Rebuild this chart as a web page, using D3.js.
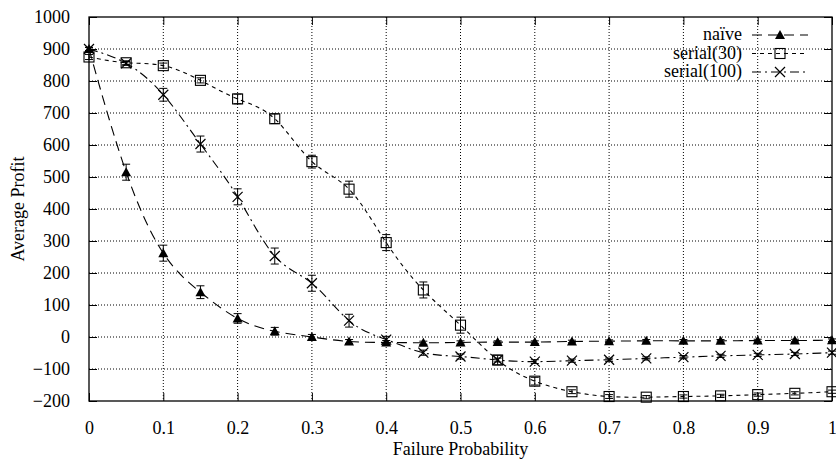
<!DOCTYPE html>
<html>
<head>
<meta charset="utf-8">
<script src="https://cdn.jsdelivr.net/npm/d3@7"></script>
<style>
  body { margin: 0; background: #fff; }
</style>
</head>
<body>
<div id="chart"></div>
<script>
// failure probabilities (x) shared by every series
var probs = [0, 0.05, 0.1, 0.15, 0.2, 0.25, 0.3, 0.35, 0.4, 0.45, 0.5,
             0.55, 0.6, 0.65, 0.7, 0.75, 0.8, 0.85, 0.9, 0.95, 1];

var naive     = [900, 515, 262, 140, 58, 18, 0, -14, -17, -18, -17,
                 -16, -16, -14, -13, -12, -12, -12, -11, -11, -10];
var naiveErr  = [5, 25, 25, 20, 15, 12, 8, 6, 6, 5, 5, 4, 4, 4, 4, 4, 4, 4, 4, 4, 4];

var serial30    = [875, 857, 848, 802, 744, 682, 548, 462, 295, 147, 37,
                   -72, -138, -171, -186, -188, -186, -184, -180, -176, -171];
var serial30Err = [8, 6, 8, 8, 15, 15, 20, 25, 25, 25, 25, 15, 12, 6, 6, 5, 5, 5, 5, 5, 5];

var serial100    = [900, 855, 757, 603, 438, 253, 168, 51, -8, -49, -61,
                    -72, -77, -74, -71, -67, -63, -59, -56, -53, -49];
var serial100Err = [5, 6, 20, 25, 25, 25, 25, 20, 10, 8, 8, 6, 6, 5, 5, 5, 5, 5, 5, 5, 5];

var xTicks = [0, 0.1, 0.2, 0.3, 0.4, 0.5, 0.6, 0.7, 0.8, 0.9, 1];
var yTicks = [-200, -100, 0, 100, 200, 300, 400, 500, 600, 700, 800, 900, 1000];

var svgWidth = 836;
var svgHeight = 464;
var margin = { top: 17, right: 4, bottom: 63, left: 89 };
var width = svgWidth - margin.left - margin.right;
var height = svgHeight - margin.top - margin.bottom;
var serif = "'Liberation Serif', 'Times New Roman', Times, 'DejaVu Serif', serif";

var svg = d3.select("#chart")
  .append("svg")
  .attr("width", svgWidth)
  .attr("height", svgHeight)
  .style("font-family", serif);

var chartGroup = svg.append("g")
  .attr("transform", `translate(${margin.left}, ${margin.top})`);

var xScale = d3.scaleLinear().domain([0, 1]).range([0, width]);
var yScale = d3.scaleLinear().domain([-200, 1000]).range([height, 0]);

// dotted grid
chartGroup.selectAll("line.gx")
  .data(xTicks.slice(1, -1))
  .enter().append("line")
  .attr("x1", d => xScale(d)).attr("x2", d => xScale(d))
  .attr("y1", 0).attr("y2", height)
  .attr("stroke", "#000").attr("stroke-width", 1)
  .attr("stroke-dasharray", "1,2");

chartGroup.selectAll("line.gy")
  .data(yTicks.slice(1, -1))
  .enter().append("line")
  .attr("x1", 0).attr("x2", width)
  .attr("y1", d => yScale(d)).attr("y2", d => yScale(d))
  .attr("stroke", "#000").attr("stroke-width", 1)
  .attr("stroke-dasharray", "1,2");

// axes with inward ticks, mirrored on top/right
var tickLen = 8;
var fmt = d => d3.format("")(d).replace("-", "\u2212");

chartGroup.append("g")
  .attr("transform", `translate(0, ${height})`)
  .call(d3.axisBottom(xScale).tickValues(xTicks).tickSizeInner(-tickLen).tickSizeOuter(0).tickPadding(20).tickFormat(d3.format("")))
  .call(g => g.select(".domain").remove());

chartGroup.append("g")
  .call(d3.axisTop(xScale).tickValues(xTicks).tickSizeInner(-tickLen).tickSizeOuter(0).tickFormat(""))
  .call(g => g.select(".domain").remove());

chartGroup.append("g")
  .call(d3.axisLeft(yScale).tickValues(yTicks).tickSizeInner(-tickLen).tickSizeOuter(0).tickPadding(19).tickFormat(fmt))
  .call(g => g.select(".domain").remove());

chartGroup.append("g")
  .attr("transform", `translate(${width}, 0)`)
  .call(d3.axisRight(yScale).tickValues(yTicks).tickSizeInner(-tickLen).tickSizeOuter(0).tickFormat(""))
  .call(g => g.select(".domain").remove());

chartGroup.selectAll(".tick line").attr("stroke", "#000").attr("stroke-width", 1);
chartGroup.selectAll(".tick text")
  .attr("fill", "#000")
  .style("font-family", serif)
  .style("font-size", "18px");

// frame
chartGroup.append("rect")
  .attr("x", 0).attr("y", 0)
  .attr("width", width).attr("height", height)
  .attr("fill", "none").attr("stroke", "#000").attr("stroke-width", 1.3);

// series
var series = [
  { name: "na\u00efve", values: naive, errs: naiveErr, dash: "10,6", marker: "triangle" },
  { name: "serial(30)", values: serial30, errs: serial30Err, dash: "4,4", marker: "square" },
  { name: "serial(100)", values: serial100, errs: serial100Err, dash: "9,4,2,4", marker: "cross" }
];

var line = d3.line()
  .x(d => xScale(d.x))
  .y(d => yScale(d.y))
  .curve(d3.curveNatural);

function drawMarker(g, kind, cx, cy) {
  if (kind === "triangle") {
    g.append("path")
      .attr("d", `M${cx},${cy - 5}L${cx + 5},${cy + 4}L${cx - 5},${cy + 4}Z`)
      .attr("fill", "#000");
  } else if (kind === "square") {
    g.append("rect")
      .attr("x", cx - 5).attr("y", cy - 5)
      .attr("width", 10).attr("height", 10)
      .attr("fill", "none").attr("stroke", "#000").attr("stroke-width", 1.1);
  } else {
    g.append("path")
      .attr("d", `M${cx - 5},${cy - 5}L${cx + 5},${cy + 5}M${cx - 5},${cy + 5}L${cx + 5},${cy - 5}`)
      .attr("stroke", "#000").attr("stroke-width", 1.2);
  }
}

series.forEach(function(s) {
  var pts = probs.map((p, i) => ({ x: p, y: s.values[i], e: s.errs[i] }));

  chartGroup.append("path")
    .datum(pts)
    .attr("d", line)
    .attr("fill", "none")
    .attr("stroke", "#000")
    .attr("stroke-width", 1.1)
    .attr("stroke-dasharray", s.dash);

  var g = chartGroup.append("g");
  pts.forEach(function(d) {
    var cx = xScale(d.x);
    var y1 = yScale(d.y - d.e), y2 = yScale(d.y + d.e);
    g.append("path")
      .attr("d", `M${cx},${y1}V${y2}M${cx - 4},${y1}H${cx + 4}M${cx - 4},${y2}H${cx + 4}`)
      .attr("stroke", "#000").attr("stroke-width", 1).attr("fill", "none");
    drawMarker(g, s.marker, cx, yScale(d.y));
  });
});

// legend
var legend = svg.append("g");
series.forEach(function(s, i) {
  var ly = 35 + i * 18.5;
  legend.append("text")
    .attr("x", 742).attr("y", ly + 5)
    .attr("text-anchor", "end")
    .style("font-family", serif)
    .style("font-size", "18px")
    .text(s.name);
  legend.append("line")
    .attr("x1", 752).attr("x2", 808)
    .attr("y1", ly).attr("y2", ly)
    .attr("stroke", "#000").attr("stroke-width", 1.1)
    .attr("stroke-dasharray", s.dash);
  drawMarker(legend, s.marker, 780, ly);
});

// axis labels
svg.append("text")
  .attr("transform", `translate(24, ${margin.top + height / 2}) rotate(-90)`)
  .attr("text-anchor", "middle")
  .style("font-family", serif)
  .style("font-size", "18px")
  .text("Average Profit");

svg.append("text")
  .attr("x", margin.left + width / 2)
  .attr("y", 455)
  .attr("text-anchor", "middle")
  .style("font-family", serif)
  .style("font-size", "18px")
  .text("Failure Probability");
</script>
</body>
</html>
